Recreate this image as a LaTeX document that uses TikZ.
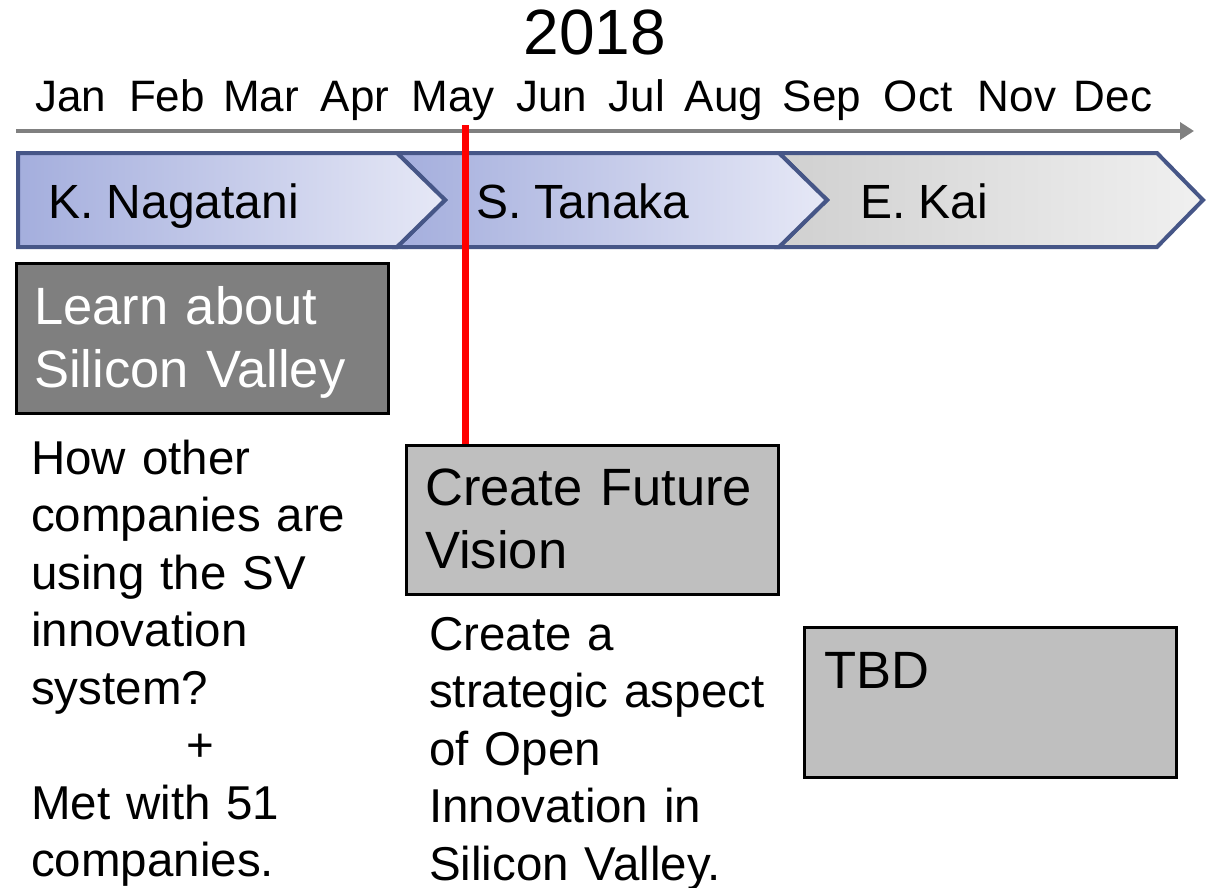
\documentclass[tikz,border=0pt]{standalone}
\usepackage{fontspec}
\setmainfont{Liberation Sans}
\usepackage{tikz}
\usetikzlibrary{arrows.meta}
\definecolor{phaseedge}{RGB}{70,86,135}
\definecolor{phasedark}{RGB}{164,174,221}
\definecolor{phaselight}{RGB}{230,232,246}
\definecolor{tbddark}{RGB}{208,208,208}
\definecolor{tbdlight}{RGB}{240,240,240}
\definecolor{axisgray}{RGB}{128,128,128}
\definecolor{boxdark}{RGB}{127,127,127}
\definecolor{boxlight}{RGB}{191,191,191}

\begin{document}
\begin{tikzpicture}[x=1pt,y=-1pt,every node/.style={inner sep=0pt},
    month/.style={anchor=base,font=\fontsize{44}{44}\selectfont},
    owner/.style={anchor=base west,font=\fontsize{48}{48}\selectfont},
    phase/.style={draw=phaseedge,line width=4pt,line join=miter},
    goalbox/.style={draw=black,line width=3pt,anchor=north west,minimum width=372pt,minimum height=150pt},
    goaltext/.style={anchor=base west,text width=360pt,align=left,font=\fontsize{52.5}{63}\selectfont},
    note/.style={anchor=base west,text width=370pt,align=left,font=\fontsize{47.5}{57.5}\selectfont}]
    \useasboundingbox (0,0) rectangle (1213,887);
    % year and months
    \node[anchor=base,font=\fontsize{64}{64}\selectfont] (year) at (595,54) {2018};
    \node[month] (jan) at (71,111) {Jan}; \node[month] (feb) at (167,111) {Feb}; \node[month] (mar) at (261,111) {Mar};
    \node[month] (apr) at (355,111) {Apr}; \node[month] (may) at (453,111) {May}; \node[month] (jun) at (552,111) {Jun};
    \node[month] (jul) at (637,111) {Jul}; \node[month] (aug) at (724,111) {Aug}; \node[month] (sep) at (822,111) {Sep};
    \node[month] (oct) at (918,111) {Oct}; \node[month] (nov) at (1017,111) {Nov}; \node[month] (dec) at (1113,111) {Dec};
    \coordinate (tstart) at (16,131);
    \coordinate (tend) at (1194,131);
    \draw[axisgray,line width=4pt,-{Triangle[length=14pt,width=17pt]}] (tstart) -- (tend);
    % owner chevrons
    \draw[phase,left color=tbddark,right color=tbdlight] (779,153) -- (1157,153) -- (1203,200) -- (1157,247) -- (779,247) -- (827,200) -- cycle;
    \draw[phase,left color=phasedark,right color=phaselight] (397,153) -- (779,153) -- (827,200) -- (779,247) -- (397,247) -- (445,200) -- cycle;
    \draw[phase,left color=phasedark,right color=phaselight] (18,153) -- (397,153) -- (445,200) -- (397,247) -- (18,247) -- cycle;
    \node[owner] (nagatani) at (48,218) {K. Nagatani};
    \node[owner] (tanaka) at (476,218) {S. Tanaka};
    \node[owner] (kai) at (860,218) {E. Kai};
    % goals
    \node[goalbox,fill=boxdark] (learn) at (15,262) {};
    \node[goaltext,text=white] (learnt) at (34,324) {Learn about\\Silicon Valley};
    \node[goalbox,fill=boxlight,minimum height=149pt] (vision) at (405,444) {};
    \node[goaltext] (visiont) at (425,505) {Create Future\\Vision};
    \node[goalbox,fill=boxlight] (tbd) at (803,626) {};
    \node[goaltext] (tbdt) at (824,688) {TBD};
    % today marker
    \coordinate (now) at (465,125);
    \draw[red,line width=7pt] (now) -- (now |- vision.north);
    % notes
    \node[note] (learnnote) at (31,474) {How other\\companies are\\using the SV\\innovation\\system?\\\hspace*{155pt}+\\Met with 51\\companies.};
    \node[note] (visionnote) at (429,650) {Create a\\strategic aspect\\of Open\\Innovation in\\Silicon Valley.};
\end{tikzpicture}
\end{document}
